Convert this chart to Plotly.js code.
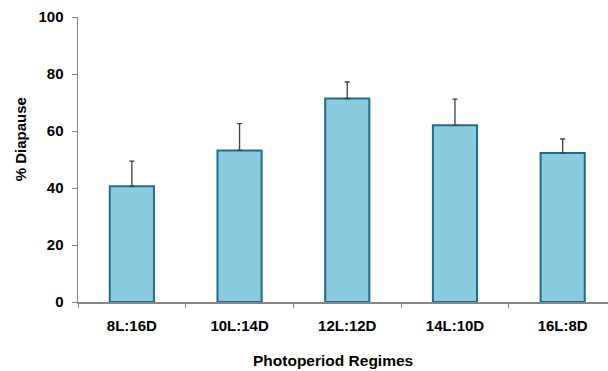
<!DOCTYPE html>
<html>
<head>
<meta charset="utf-8">
<script src="https://cdn.plot.ly/plotly-3.0.1.min.js"></script>
<style>
  html, body { margin: 0; padding: 0; background: #fff; }
  #chart { width: 608px; height: 371px; }
</style>
</head>
<body>
<div id="chart"></div>
<script>
// Photoperiod regimes (hours light : hours dark)
const regimes = ['8L:16D', '10L:14D', '12L:12D', '14L:10D', '16L:8D'];
// Mean percentage of diapause per regime
const diapause = [40.6, 53.2, 71.4, 62.0, 52.3];
// Upper error (standard error) per regime
const errorUp = [8.8, 9.4, 5.8, 9.2, 4.9];
const errorDown = [0, 0, 0, 0, 0];
const yTicks = [0, 20, 40, 60, 80, 100];

const font = 'Liberation Sans, Arial, sans-serif';

const trace = {
  type: 'bar',
  x: regimes,
  y: diapause,
  width: 0.41,
  marker: {
    color: '#8bcbdf',
    line: { color: '#1f6d8a', width: 2 }
  },
  error_y: {
    type: 'data',
    symmetric: false,
    array: errorUp,
    arrayminus: errorDown,
    color: '#404040',
    thickness: 1.3,
    width: 2.5
  },
  hoverinfo: 'skip'
};

const layout = {
  width: 608,
  height: 371,
  margin: { l: 78, r: 0, t: 17, b: 69 },
  paper_bgcolor: '#ffffff',
  plot_bgcolor: '#ffffff',
  showlegend: false,
  font: { family: font, size: 15, color: '#000' },
  xaxis: {
    type: 'category',
    range: [-0.5, 4.421],
    showline: true,
    linecolor: '#878787',
    linewidth: 1.5,
    showgrid: false,
    zeroline: false,
    ticks: 'outside',
    tickson: 'boundaries',
    ticklen: 4,
    tickwidth: 1,
    tickcolor: '#878787',
    ticklabelstandoff: 9,
    tickfont: { family: font, size: 15, color: '#000', weight: 'bold' },
    fixedrange: true
  },
  yaxis: {
    range: [0, 100],
    tickvals: yTicks,
    ticktext: yTicks.map(String),
    showline: true,
    linecolor: '#878787',
    linewidth: 1.5,
    showgrid: false,
    zeroline: false,
    ticks: 'outside',
    ticklen: 5,
    tickwidth: 1,
    tickcolor: '#878787',
    ticklabelstandoff: 5,
    tickfont: { family: font, size: 15, color: '#000', weight: 'bold' },
    fixedrange: true
  },
  annotations: [
    {
      text: '<b>% Diapause</b>',
      xref: 'paper', yref: 'paper',
      x: -78 / 530 + 20 / 530, y: (301.7 - 139) / 285,
      xanchor: 'center', yanchor: 'middle',
      textangle: -90,
      showarrow: false,
      font: { family: font, size: 15, color: '#000' }
    },
    {
      text: '<b>Photoperiod Regimes</b>',
      xref: 'paper', yref: 'paper',
      x: (333 - 78) / 530, y: -(360 - 302) / 285,
      xanchor: 'center', yanchor: 'middle',
      showarrow: false,
      font: { family: font, size: 15.5, color: '#000' }
    }
  ]
};

Plotly.newPlot('chart', [trace], layout, { staticPlot: true, displayModeBar: false });
</script>
</body>
</html>
